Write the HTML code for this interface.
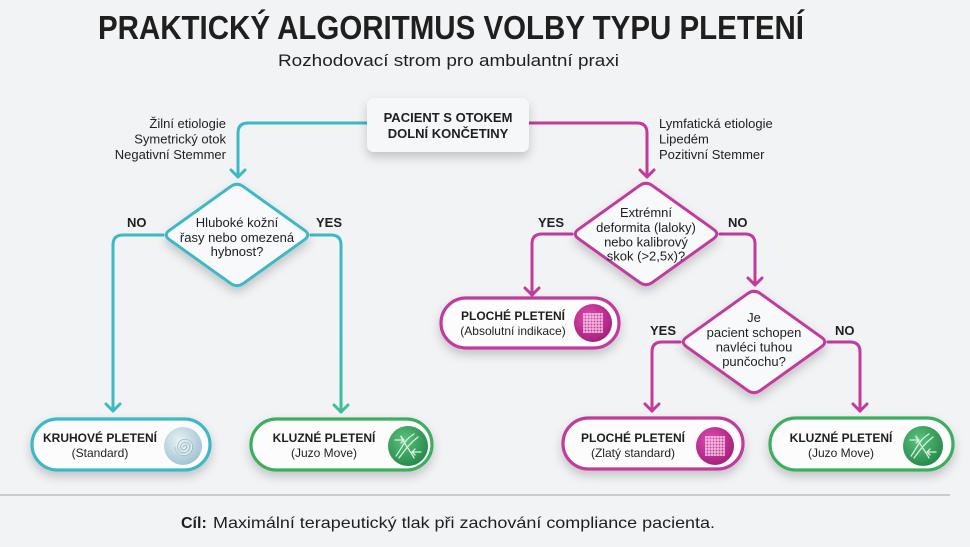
<!DOCTYPE html>
<html><head><meta charset="utf-8"><style>
html,body{margin:0;padding:0;background:#f2f3f5;}
svg{display:block;}
text{font-family:"Liberation Sans",Arial,sans-serif;fill:#1f1f1f;}
</style></head><body>
<svg width="970" height="547" viewBox="0 0 970 547" xmlns="http://www.w3.org/2000/svg">
<defs>
  <filter id="sh" x="-20%" y="-30%" width="140%" height="180%">
    <feDropShadow dx="0" dy="5" stdDeviation="5" flood-color="#000" flood-opacity="0.2"/>
  </filter>
  <radialGradient id="gBlue" cx="40%" cy="35%" r="70%">
    <stop offset="0" stop-color="#e6f1f5"/><stop offset="1" stop-color="#9fc2d1"/>
  </radialGradient>
  <radialGradient id="gGreen" cx="40%" cy="35%" r="70%">
    <stop offset="0" stop-color="#5cc27c"/><stop offset="1" stop-color="#23874a"/>
  </radialGradient>
  <radialGradient id="gMag" cx="40%" cy="35%" r="70%">
    <stop offset="0" stop-color="#e04cb0"/><stop offset="1" stop-color="#a31d78"/>
  </radialGradient>
  <linearGradient id="tg" gradientUnits="userSpaceOnUse" x1="0" y1="330" x2="0" y2="415">
    <stop offset="0" stop-color="#3db8c6"/><stop offset="1" stop-color="#3fbe92"/>
  </linearGradient>
</defs>
<rect width="970" height="547" fill="#f2f3f5"/>

<!-- Title -->
<text x="98" y="39" font-size="33" font-weight="bold" textLength="706" lengthAdjust="spacingAndGlyphs" fill="#111">PRAKTICKÝ ALGORITMUS VOLBY TYPU PLETENÍ</text>
<text x="278" y="66" font-size="17" textLength="341" lengthAdjust="spacingAndGlyphs" fill="#2a2a2a">Rozhodovací strom pro ambulantní praxi</text>

<!-- Connectors -->
<g fill="none" stroke-width="3" stroke-linecap="round" stroke-linejoin="round">
  <g stroke="#3db8c6">
    <path d="M367,123 H248 Q238,123 238,133 V177"/>
    <path d="M231,170 L238,177 L245,170"/>
    <path d="M163,235 H123 Q113,235 113,245 V411"/>
    <path d="M106,404 L113,411 L120,404"/>
  </g>
  <g stroke="url(#tg)">
    <path d="M311,235 H331 Q341,235 341,245 V412"/>
    <path d="M334,405 L341,412 L348,405"/>
  </g>
  <g stroke="#c13a9c">
    <path d="M529,123 H637 Q647,123 647,133 V177"/>
    <path d="M640,170 L647,177 L654,170"/>
    <path d="M572,234 H542 Q532,234 532,244 V295"/>
    <path d="M525,288 L532,295 L539,288"/>
    <path d="M720,234 H745 Q755,234 755,244 V285"/>
    <path d="M748,278 L755,285 L762,278"/>
    <path d="M680,342 H662 Q652,342 652,352 V411"/>
    <path d="M645,404 L652,411 L659,404"/>
    <path d="M828,342 H850 Q860,342 860,352 V411"/>
    <path d="M853,404 L860,411 L867,404"/>
  </g>
</g>

<!-- Start box -->
<rect x="367" y="98" width="162" height="54" rx="7" fill="#f6f7f9" filter="url(#sh)"/>
<text x="448" y="122" font-size="13" font-weight="bold" text-anchor="middle" fill="#1a1a1a">PACIENT S OTOKEM</text>
<text x="448" y="138" font-size="13" font-weight="bold" text-anchor="middle" fill="#1a1a1a">DOLNÍ KONČETINY</text>

<!-- Side labels -->
<g font-size="13" fill="#2a2a2a">
  <text x="226" y="128" text-anchor="end">Žilní etiologie</text>
  <text x="226" y="143.5" text-anchor="end">Symetrický otok</text>
  <text x="226" y="159" text-anchor="end">Negativní Stemmer</text>
  <text x="659" y="128">Lymfatická etiologie</text>
  <text x="659" y="143.5">Lipedém</text>
  <text x="659" y="159">Pozitivní Stemmer</text>
</g>

<!-- Diamonds -->
<g fill="#f8f9fa" stroke-width="3" stroke-linejoin="round" filter="url(#sh)">
  <path stroke="#3db8c6" d="M243.5,186.66 L304.5,230.34 Q311,235 304.5,239.66 L243.5,283.34 Q237,288 230.5,283.34 L169.5,239.66 Q163,235 169.5,230.34 L230.5,186.66 Q237,182 243.5,186.66 Z"/>
  <path stroke="#c13a9c" d="M652.5,185.66 L713.5,229.34 Q720,234 713.5,238.66 L652.5,282.34 Q646,287 639.5,282.34 L578.5,238.66 Q572,234 578.5,229.34 L639.5,185.66 Q646,181 652.5,185.66 Z"/>
  <path stroke="#c13a9c" d="M760.5,293.66 L821.5,337.34 Q828,342 821.5,346.66 L760.5,390.34 Q754,395 747.5,390.34 L686.5,346.66 Q680,342 686.5,337.34 L747.5,293.66 Q754,289 760.5,293.66 Z"/>
</g>
<g font-size="13" text-anchor="middle" fill="#2a2a2a">
  <text x="237" y="227">Hluboké kožní</text>
  <text x="237" y="242">řasy nebo omezená</text>
  <text x="237" y="256">hybnost?</text>
  <text x="646" y="217">Extrémní</text>
  <text x="646" y="232">deformita (laloky)</text>
  <text x="646" y="246.5">nebo kalibrový</text>
  <text x="646" y="260.5">skok (&gt;2,5x)?</text>
  <text x="754" y="322">Je</text>
  <text x="754" y="337">pacient schopen</text>
  <text x="754" y="351.5">navléci tuhou</text>
  <text x="754" y="366">punčochu?</text>
</g>

<!-- YES / NO -->
<g font-size="13" font-weight="bold" fill="#1a1a1a">
  <text x="127" y="227">NO</text>
  <text x="316" y="227">YES</text>
  <text x="538" y="227">YES</text>
  <text x="728" y="227">NO</text>
  <text x="650" y="335">YES</text>
  <text x="835" y="335">NO</text>
</g>

<!-- Pills -->
<g stroke-width="3.2" fill="#fcfcfd" filter="url(#sh)">
  <rect x="32" y="419" width="178" height="51" rx="25.5" stroke="#3db8c6"/>
  <rect x="251" y="419" width="181" height="51" rx="25.5" stroke="#3cae5e"/>
  <rect x="441" y="298" width="178" height="50" rx="25" stroke="#c13a9c"/>
  <rect x="563" y="418" width="180" height="51" rx="25.5" stroke="#c13a9c"/>
  <rect x="770" y="418" width="183" height="52" rx="26" stroke="#3cae5e"/>
</g>

<!-- Pill texts -->
<g font-size="12" text-anchor="middle" fill="#1f1f1f">
  <text x="100" y="442" font-weight="bold">KRUHOVÉ PLETENÍ</text>
  <text x="100" y="457">(Standard)</text>
  <text x="324" y="442" font-weight="bold">KLUZNÉ PLETENÍ</text>
  <text x="324" y="457">(Juzo Move)</text>
  <text x="513" y="320" font-weight="bold">PLOCHÉ PLETENÍ</text>
  <text x="513" y="335">(Absolutní indikace)</text>
  <text x="633" y="442" font-weight="bold">PLOCHÉ PLETENÍ</text>
  <text x="633" y="457">(Zlatý standard)</text>
  <text x="841" y="442" font-weight="bold">KLUZNÉ PLETENÍ</text>
  <text x="841" y="457">(Juzo Move)</text>
</g>

<!-- Icons -->
<circle cx="183" cy="446" r="19" fill="url(#gBlue)"/>
<path d="M183,446 a1.5,1.5 0 0 1 3,0 a3,3 0 0 1 -6,0 a4.5,4.5 0 0 1 9,0 a6,6 0 0 1 -12,0 a7.5,7.5 0 0 1 15,0 a9,9 0 0 1 -18,0" fill="none" stroke="#eef5f8" stroke-width="1.3"/>
<path d="M183,446 a1.5,1.5 0 0 1 3,0 a3,3 0 0 1 -6,0 a4.5,4.5 0 0 1 9,0 a6,6 0 0 1 -12,0 a7.5,7.5 0 0 1 15,0 a9,9 0 0 1 -18,0" fill="none" stroke="#86a4b1" stroke-width="0.6" transform="translate(0.6,0.6)"/>

<circle cx="408" cy="446" r="20" fill="url(#gGreen)"/>
<g fill="none" stroke="#d8f2de" stroke-width="1.3" stroke-linecap="round">
  <path d="M396,456 C402,448 404,440 414,434"/>
  <path d="M399,458 C405,450 409,444 418,437"/>
  <path d="M401,436 C404,444 410,450 414,458"/>
  <path d="M395,440 L404,440 M401,437 L404,440 L401,443"/>
  <path d="M421,452 L412,452 M415,449 L412,452 L415,455"/>
</g>
<circle cx="923" cy="446" r="20" fill="url(#gGreen)"/>
<g fill="none" stroke="#d8f2de" stroke-width="1.3" stroke-linecap="round">
  <path d="M911,456 C917,448 919,440 929,434"/>
  <path d="M914,458 C920,450 924,444 933,437"/>
  <path d="M916,436 C919,444 925,450 929,458"/>
  <path d="M910,440 L919,440 M916,437 L919,440 L916,443"/>
  <path d="M936,452 L927,452 M930,449 L927,452 L930,455"/>
</g>

<circle cx="593" cy="323" r="19" fill="url(#gMag)"/>
<g stroke="#f6d6ec" stroke-width="1">
  <path d="M583,314 H603 M583,317 H603 M583,320 H603 M583,323 H603 M583,326 H603 M583,329 H603 M583,332 H603"/>
  <path d="M584,313 V333 M587,313 V333 M590,313 V333 M593,313 V333 M596,313 V333 M599,313 V333 M602,313 V333"/>
</g>
<circle cx="715" cy="446" r="19" fill="url(#gMag)"/>
<g stroke="#f6d6ec" stroke-width="1">
  <path d="M705,437 H725 M705,440 H725 M705,443 H725 M705,446 H725 M705,449 H725 M705,452 H725 M705,455 H725"/>
  <path d="M706,436 V456 M709,436 V456 M712,436 V456 M715,436 V456 M718,436 V456 M721,436 V456 M724,436 V456"/>
</g>

<!-- Divider & footer -->
<line x1="0" y1="495" x2="950" y2="495" stroke="#c9cbcd" stroke-width="2"/>
<text x="181" y="528" font-size="16" font-weight="bold" fill="#111">Cíl:</text>
<text x="213" y="528" font-size="16" textLength="502" lengthAdjust="spacingAndGlyphs" fill="#1f1f1f">Maximální terapeutický tlak při zachování compliance pacienta.</text>
</svg>
</body></html>
